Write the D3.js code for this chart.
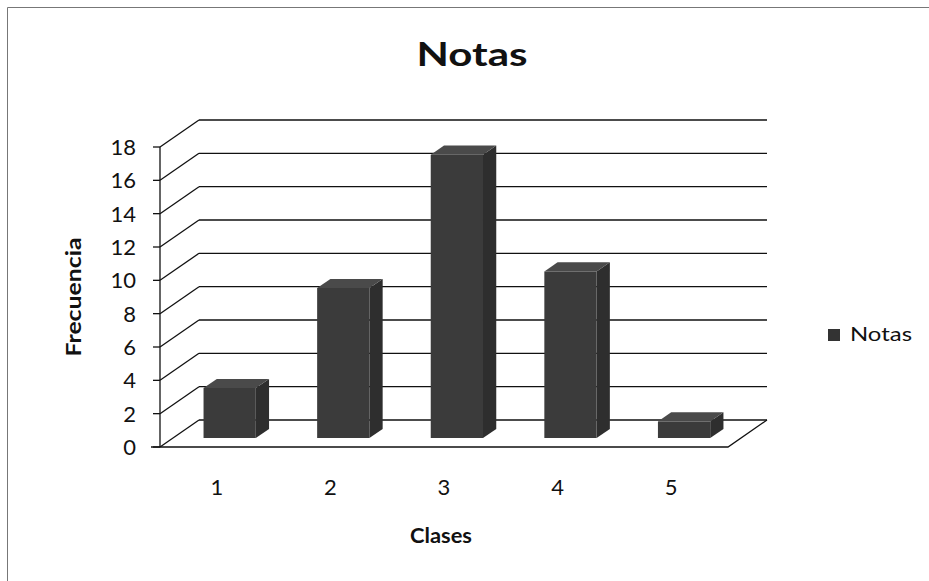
<!DOCTYPE html>
<html>
<head>
<meta charset="utf-8">
<script src="https://cdn.jsdelivr.net/npm/d3@7"></script>
<style>
  body { margin: 0; background: #fff; }
  text { font-family: Lato, "Open Sans", sans-serif; fill: #111; }
</style>
</head>
<body>
<svg id="chart" width="929" height="581"></svg>
<script>
const categories = ["1", "2", "3", "4", "5"];
const notas = [3, 9, 17, 10, 1];
const yTicks = [0, 2, 4, 6, 8, 10, 12, 14, 16, 18];

const svg = d3.select("#chart");

// depth of the 3d box and where the bars sit in it
const depthX = 39, depthY = -27;
const barFront = 0.33, barBack = 0.67;

const x = d3.scaleBand().domain(categories).range([160, 728])
  .paddingInner(0.54).paddingOuter(0.27);
const y = d3.scaleLinear().domain([0, 18]).range([447, 147]);

const pt = (px, v, t) => [px + depthX * t, y(v) + depthY * t];

// outer chart border
svg.append("path")
  .attr("d", "M7.5,581 L7.5,7.5 L929,7.5")
  .attr("fill", "none").attr("stroke", "#777").attr("stroke-width", 1);

const grid = svg.append("g").attr("stroke", "#111").attr("stroke-width", 1.3).attr("fill", "none");

// back wall gridlines + side wall diagonals
yTicks.forEach(v => {
  const a = pt(160, v, 1), b = pt(728, v, 1);
  grid.append("line").attr("x1", a[0]).attr("y1", a[1]).attr("x2", b[0]).attr("y2", b[1]);
  const f = pt(160, v, 0);
  grid.append("line").attr("x1", f[0]).attr("y1", f[1]).attr("x2", a[0]).attr("y2", a[1]);
});

// floor edges
const fl = pt(151, 0, 0), fr = pt(728, 0, 0), br = pt(728, 0, 1);
grid.append("path").attr("d", `M${fl}L${fr}L${br}`);

// front vertical axis with ticks
grid.append("line").attr("x1", 160).attr("x2", 160).attr("y1", y(18)).attr("y2", y(0));
yTicks.forEach(v => {
  grid.append("line").attr("x1", 153).attr("x2", 160).attr("y1", y(v)).attr("y2", y(v));
});

svg.append("g").selectAll("text").data(yTicks).enter().append("text")
  .attr("x", 136).attr("y", d => y(d)).attr("dy", "0.36em")
  .attr("text-anchor", "end").style("font-size", "22px")
  .text(d => d);

// 3d columns
const bars = svg.append("g");
categories.forEach((c, i) => {
  const x0 = x(c), x1 = x(c) + x.bandwidth(), v = notas[i];
  const g = bars.append("g");
  const f0 = pt(x0, 0, barFront), f1 = pt(x1, 0, barFront);
  const t0 = pt(x0, v, barFront), t1 = pt(x1, v, barFront);
  const b0 = pt(x0, v, barBack), b1 = pt(x1, v, barBack), bb1 = pt(x1, 0, barBack);
  g.append("path").attr("d", `M${f1}L${bb1}L${b1}L${t1}Z`).attr("fill", "#2e2e2e");
  g.append("path").attr("d", `M${t0}L${t1}L${b1}L${b0}Z`).attr("fill", "#4a4a4a");
  g.append("path").attr("d", `M${f0}L${f1}L${t1}L${t0}Z`).attr("fill", "#3b3b3b");
});

// category labels
svg.append("g").selectAll("text").data(categories).enter().append("text")
  .attr("x", d => x(d) + x.bandwidth() / 2).attr("y", 495)
  .attr("text-anchor", "middle").style("font-size", "22px")
  .text(d => d);

// title and axis titles
svg.append("text").attr("x", 472).attr("y", 66)
  .attr("text-anchor", "middle").style("font-size", "32px").style("font-weight", "bold")
  .attr("textLength", 111).attr("lengthAdjust", "spacingAndGlyphs")
  .text("Notas");
svg.append("text").attr("x", 441).attr("y", 543)
  .attr("text-anchor", "middle").style("font-size", "20px").style("font-weight", "bold")
  .attr("textLength", 62).attr("lengthAdjust", "spacingAndGlyphs")
  .text("Clases");
svg.append("text").attr("transform", "translate(74,297) rotate(-90)").attr("dy", "0.36em")
  .attr("text-anchor", "middle").style("font-size", "20px").style("font-weight", "bold")
  .attr("textLength", 119).attr("lengthAdjust", "spacingAndGlyphs")
  .text("Frecuencia");

// legend
const legend = svg.append("g").attr("transform", "translate(828,335)");
legend.append("rect").attr("x", 0).attr("y", -6).attr("width", 12).attr("height", 12).attr("fill", "#333");
legend.append("text").attr("x", 22).attr("y", 6)
  .style("font-size", "19px")
  .attr("textLength", 62).attr("lengthAdjust", "spacingAndGlyphs")
  .text("Notas");
</script>
</body>
</html>
